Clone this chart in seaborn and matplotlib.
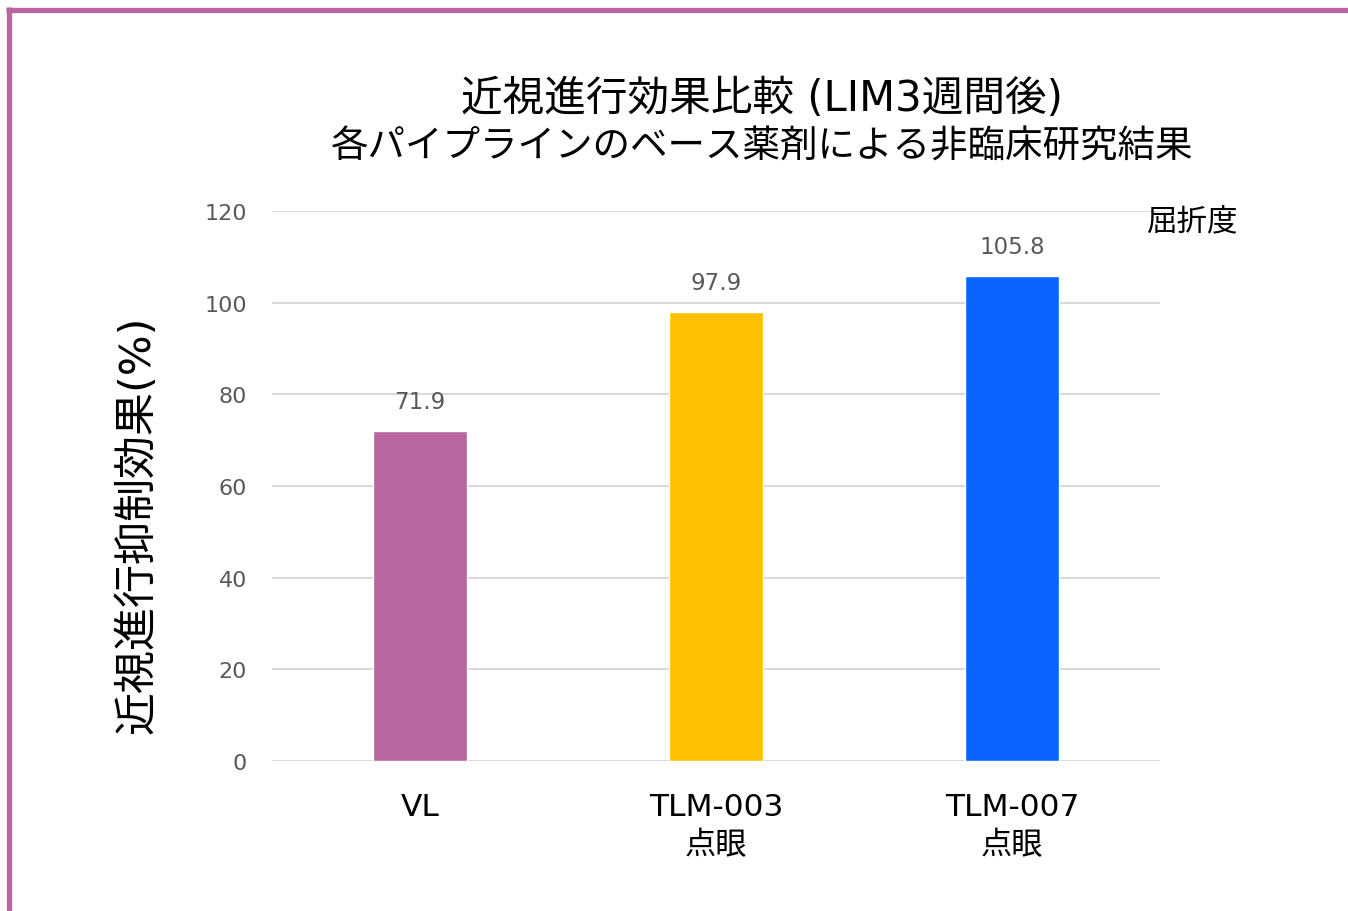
import matplotlib
matplotlib.use("Agg")
import matplotlib.pyplot as plt
import seaborn as sns
import pandas as pd
from matplotlib.lines import Line2D

categories = ["VL", "TLM-003\n点眼", "TLM-007\n点眼"]
values = [71.9, 97.9, 105.8]
colors = ["#B865A0", "#FFC000", "#0A64FF"]
yticks = [0, 20, 40, 60, 80, 100, 120]
title1 = "近視進行効果比較 (LIM3週間後)"
title2 = "各パイプラインのベース薬剤による非臨床研究結果"

sns.set_theme(style="white")
plt.rcParams['font.family'] = ['DejaVu Sans', 'Noto Sans CJK JP']

df = pd.DataFrame({"cat": categories, "val": values})

fig = plt.figure(figsize=(13.48, 9.12), dpi=100)
ax = fig.add_axes([272/1348, 150/912, 888/1348, 550/912])

sns.barplot(data=df, x="cat", y="val", hue="cat", palette=colors,
            legend=False, width=0.315, ax=ax, saturation=1)

ax.set_ylim(0, 120)
ax.set_yticks(yticks)
ax.set_xlim(-0.5, 2.5)
ax.yaxis.grid(True, color="#D9D9D9", linewidth=1.5)
ax.set_axisbelow(True)
for s in ax.spines.values():
    s.set_visible(False)
ax.tick_params(axis="y", labelsize=16, labelcolor="#595959", length=0, pad=18)
ax.tick_params(axis="x", labelsize=22.5, labelcolor="#000000", length=0, pad=22)
for lab in ax.get_xticklabels():
    lab.set_linespacing(1.4)
ax.set_xlabel("")
ax.set_ylabel("近視進行抑制効果(%)", fontsize=31, color="#000000")
ax.yaxis.set_label_coords((158 - 272) / 888, (762 - 525) / 550)

for cont in ax.containers:
    ax.bar_label(cont, fmt="%.1f", fontsize=16.5, color="#595959", padding=13)

fig.text(762/1348, 1 - 99/912, title1, ha="center", va="center", fontsize=30, color="#000000")
fig.text(762/1348, 1 - 148/912, title2, ha="center", va="center", fontsize=27, color="#000000")

fig.text(1192/1348, 1 - 222/912, "屈折度", ha="center", va="center", fontsize=22, color="#000000")

# frame border
bc = "#B865A0"
fig.add_artist(Line2D([6/1348, 1.0], [1 - 10.5/912, 1 - 10.5/912], transform=fig.transFigure,
                      color=bc, linewidth=3.8, solid_capstyle="butt"))
fig.add_artist(Line2D([8.5/1348, 8.5/1348], [0, 1 - 8/912], transform=fig.transFigure,
                      color=bc, linewidth=3.8, solid_capstyle="butt"))

fig.savefig("out.png", dpi=100)
